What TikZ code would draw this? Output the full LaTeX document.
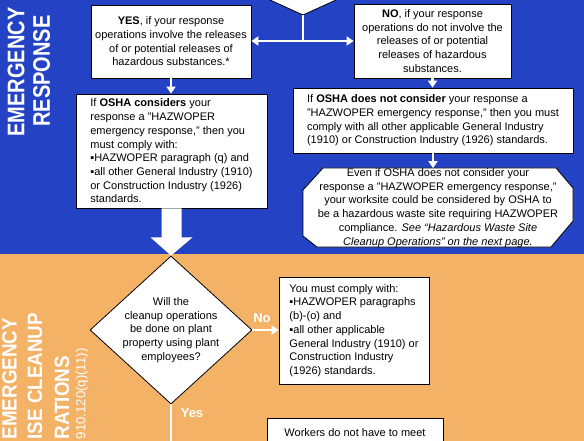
\documentclass[tikz,border=0pt]{standalone}
\usepackage{fontspec}
\setmainfont{Liberation Sans}
\usetikzlibrary{calc,arrows.meta,shapes.geometric}
\definecolor{bgblue}{RGB}{36,66,196}
\definecolor{bgorange}{RGB}{243,178,102}
\begin{document}
\begin{tikzpicture}[x=1pt,y=-1pt,
  box/.style={draw=black, fill=white, line width=0.8pt, inner sep=0pt,
    font=\fontsize{11}{13.7}\selectfont},
  conn/.style={draw=white, line width=2.4pt},
  arr/.style={conn, -{Triangle[length=7pt,width=9pt]}},
  sidelbl/.style={text=white, font=\fontsize{20}{20}\selectfont\bfseries, rotate=90, inner sep=0pt},
  sidelow/.style={text=white, font=\fontsize{18.8}{19}\selectfont\bfseries, rotate=90, inner sep=0pt},
  sidesmall/.style={text=white, font=\fontsize{13.2}{14}\selectfont, rotate=90, inner sep=0pt},
  branch/.style={text=white, font=\fontsize{13}{13}\selectfont\bfseries, inner sep=0pt},
]
\useasboundingbox (0,0) rectangle (584,441);
\clip (0,0) rectangle (584,441);
% backgrounds
\fill[bgblue] (0,0) rectangle (584,254);
\fill[bgorange] (0,254) rectangle (584,441);

% side labels
\node[sidelbl] (er1) at (16,72) {\scalebox{1}[1.2]{EMERGENCY}};
\node[sidelbl] (er2) at (41.5,71) {\scalebox{1}[1.2]{RESPONSE}};
\node[sidelow, anchor=west] (nl1) at (9.5,439.5) {\scalebox{1}[1.1]{EMERGENCY}};
\node[sidelow, anchor=west] (nl2) at (35,439.5) {\scalebox{1}[1.1]{ISE CLEANUP}};
\node[sidelow, anchor=west] (nl3) at (62,439.5) {\scalebox{1}[1.1]{RATIONS}};
\node[sidesmall, anchor=west] (nl4) at (82,439.5) {910.120(q)(11))};

% top diamond (cut off)
\coordinate (topd) at (303,15);
\draw[fill=white, line width=0.8pt] (topd) -- (215,-25) -- (303,-65) -- (391,-25) -- cycle;
\coordinate (junc) at (303,41);

% boxes
\node[box, align=center, minimum width=160, minimum height=73] (yes) at (171,41.5)
  {\textbf{YES}, if your response\\operations involve the releases\\of or potential releases of\\hazardous substances.*};
\node[box, align=center, minimum width=157, minimum height=74] (no) at (432.5,41)
  {\textbf{NO}, if your response\\operations do not involve the\\releases of or potential\\releases of hazardous\\substances.};
\node[box, align=left, minimum width=191, minimum height=114] (osha) at (171.5,151)
  {If \textbf{OSHA considers} your\\response a "HAZWOPER\\emergency response," then you\\must comply with:\\▪HAZWOPER paragraph (q) and\\▪all other General Industry (1910)\\or Construction Industry (1926)\\standards.};
\node[box, align=left, minimum width=280, minimum height=65] (notc) at (433,120.5)
  {If \textbf{OSHA does not consider} your response a\\"HAZWOPER emergency response," then you must\\comply with all other applicable General Industry\\(1910) or Construction Industry (1926) standards.};

% octagon
\draw[fill=white, line width=0.8pt] (323,168) -- (556,168) -- (573,188) -- (573,221) -- (551,247)
  -- (317,247) -- (303,236) -- (303,190) -- cycle;
\node[box, draw=none, fill=none, align=center, minimum width=270, minimum height=79] (oct) at (438,208)
  {Even if OSHA does not consider your\\response a "HAZWOPER emergency response,"\\your worksite could be considered by OSHA to\\be a hazardous waste site requiring HAZWOPER\\compliance. \textit{See “Hazardous Waste Site}\\\textit{Cleanup Operations” on the next page.}};

% decision diamond
\node[diamond, draw=black, fill=white, line width=0.8pt, minimum width=162, minimum height=148, inner sep=0pt] (d2) at (171,330) {};
\node[box, draw=none, fill=none, align=center] (d2t) at (d2.center)
  {Will the\\cleanup operations\\be done on plant\\property using plant\\employees?};

\node[box, align=left, minimum width=150, minimum height=107] (comply) at (354,330.5)
  {You must comply with:\\▪HAZWOPER paragraphs\\(b)-(o) and\\▪all other applicable\\General Industry (1910) or\\Construction Industry\\(1926) standards.};

\draw[fill=white, line width=0.8pt] (267,418) rectangle (443,480);
\node[box, draw=none, fill=none, anchor=north] (work) at (355,428) {Workers do not have to meet};

% connectors
\draw[conn] (topd) -- (junc);
\draw[arr] (junc) -- (junc -| yes.east);
\draw[arr] (junc) -- (junc -| no.west);
\draw[arr] (yes.south) -- (yes.south |- osha.north);
\draw[arr] (no.south) -- (no.south |- notc.north);
\draw[arr] (notc.south) -- (notc.south |- oct.north);
\draw[arr] (d2.east) -- (d2.east -| comply.west);
\coordinate (yesend) at (171,450);
\draw[conn] (d2.south) -- (yesend);

% big arrow
\fill[white] ($(osha.south)+(-10,0)$) -- ($(osha.south)+(10,0)$) -- ($(osha.south)+(10,29)$)
  -- ($(osha.south)+(21,29)$) -- (d2.north) -- ($(osha.south)+(-21,29)$) -- ($(osha.south)+(-10,29)$) -- cycle;

% branch labels
\node[branch] (nolbl) at (262,318) {No};
\node[branch] (yeslbl) at (192,413) {Yes};
\end{tikzpicture}
\end{document}
